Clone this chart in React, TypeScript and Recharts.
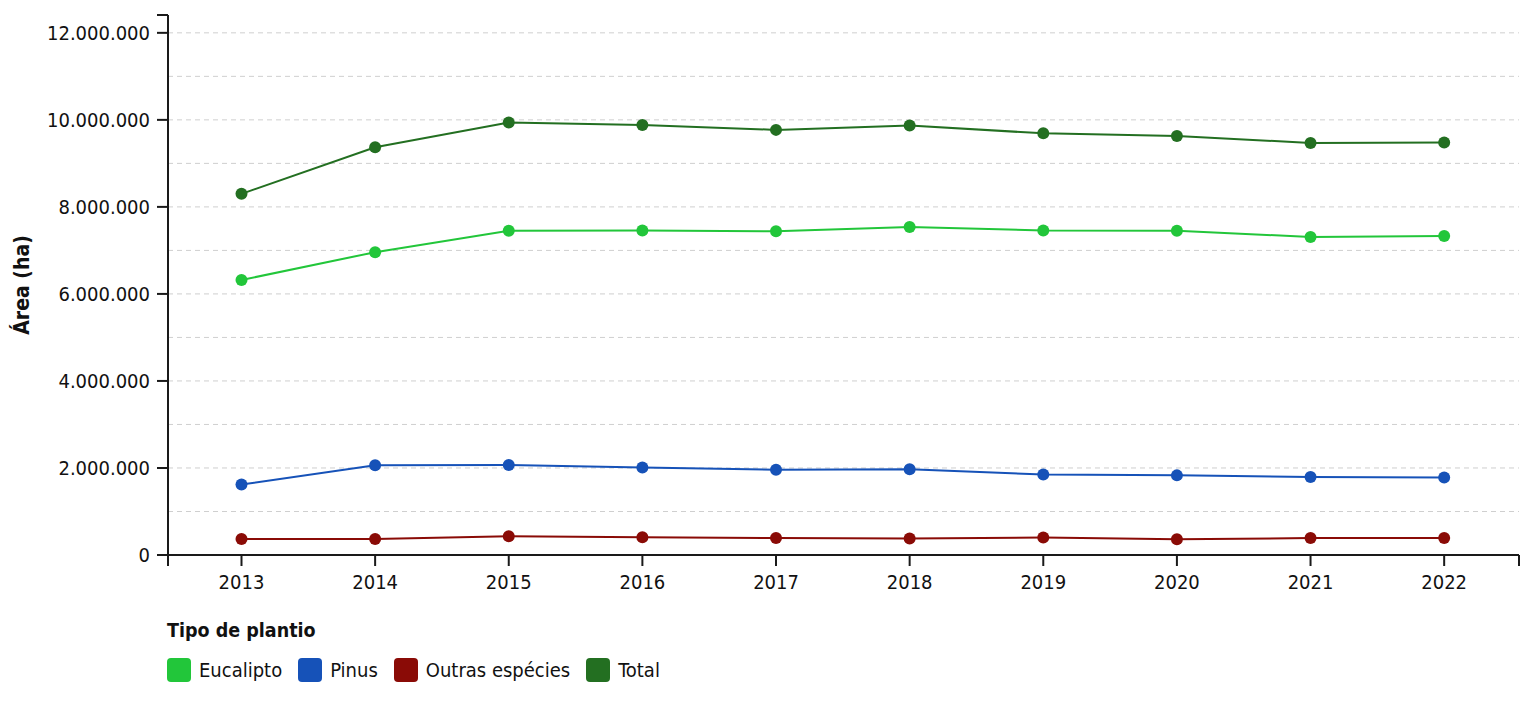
import { LineChart, Line, XAxis, YAxis, CartesianGrid } from 'recharts';

const years = [2013, 2014, 2015, 2016, 2017, 2018, 2019, 2020, 2021, 2022];

const eucalipto = [6320000, 6960000, 7450000, 7460000, 7440000, 7540000, 7460000, 7450000, 7310000, 7330000];
const pinus = [1620000, 2060000, 2070000, 2010000, 1960000, 1970000, 1850000, 1830000, 1790000, 1780000];
const outras = [370000, 370000, 430000, 410000, 390000, 380000, 400000, 360000, 390000, 390000];
const total = [8300000, 9370000, 9940000, 9880000, 9770000, 9870000, 9690000, 9630000, 9470000, 9480000];

const yTicks = [0, 2000000, 4000000, 6000000, 8000000, 10000000, 12000000];
const yGrid = [1000000, 2000000, 3000000, 4000000, 5000000, 6000000, 7000000, 8000000, 9000000, 10000000, 11000000, 12000000];
const yMax = 12410000;
const xMin = 2012.45;
const xMax = 2022.56;

const series = [
  { key: 'eucalipto', name: 'Eucalipto', color: '#22c63a' },
  { key: 'pinus', name: 'Pinus', color: '#1652b8' },
  { key: 'outras', name: 'Outras espécies', color: '#8a0b06' },
  { key: 'total', name: 'Total', color: '#236f21' },
];

const data = years.map((year, i) => ({
  year,
  eucalipto: eucalipto[i],
  pinus: pinus[i],
  outras: outras[i],
  total: total[i],
}));

const formatNumber = (v: number) => String(Math.round(v)).replace(/\B(?=(\d{3})+(?!\d))/g, '.');

const FONT = "'DejaVu Sans Condensed', 'Noto Sans', sans-serif";

export default function App() {
  return (
    <div
      style={{
        position: 'absolute',
        left: 0,
        top: 0,
        width: 1521,
        height: 714,
        background: '#fff',
        fontFamily: FONT,
      }}
    >
      <LineChart width={1521} height={714} data={data} margin={{ top: 15, right: 2, left: 0, bottom: 119 }}>
        <CartesianGrid
          vertical={false}
          horizontalValues={yGrid}
          stroke="#cfcfcf"
          strokeDasharray="5 4"
        />
        <XAxis
          dataKey="year"
          type="number"
          domain={[xMin, xMax]}
          ticks={[xMin, ...years, xMax]}
          tickFormatter={(v: number) => (Number.isInteger(v) ? String(v) : '')}
          height={40}
          tickSize={11}
          tickMargin={9}
          stroke="#1a1a1a"
          strokeWidth={2}
          tick={{ fill: '#111', fontSize: 20 }}
          interval={0}
        />
        <YAxis
          domain={[0, yMax]}
          ticks={[...yTicks, yMax]}
          tickFormatter={(v: number) => (v === yMax ? '' : formatNumber(v))}
          width={168}
          tickSize={11}
          tickMargin={7}
          stroke="#1a1a1a"
          strokeWidth={2}
          tick={{ fill: '#111', fontSize: 20 }}
          interval={0}
          label={{
            value: 'Área (ha)',
            angle: -90,
            position: 'insideLeft',
            offset: 22,
            style: { textAnchor: 'middle', fontWeight: 700, fontSize: 21, fill: '#111' },
          }}
        />
        {series.map((s) => (
          <Line
            key={s.key}
            dataKey={s.key}
            name={s.name}
            type="linear"
            stroke={s.color}
            strokeWidth={2}
            dot={{ r: 6, fill: s.color, stroke: 'none' }}
            activeDot={false}
            isAnimationActive={false}
          />
        ))}
      </LineChart>
      <div style={{ position: 'absolute', left: 167, top: 616, color: '#111' }}>
        <div style={{ fontWeight: 700, fontSize: 19.5, lineHeight: '30px' }}>Tipo de plantio</div>
        <div style={{ display: 'flex', alignItems: 'center', marginTop: 10, fontSize: 20, lineHeight: '28px' }}>
          {series.map((s) => (
            <div key={s.key} style={{ display: 'flex', alignItems: 'center', marginRight: 16 }}>
              <span
                style={{
                  display: 'inline-block',
                  width: 24,
                  height: 24,
                  borderRadius: 4,
                  background: s.color,
                  marginRight: 8,
                }}
              />
              <span>{s.name}</span>
            </div>
          ))}
        </div>
      </div>
    </div>
  );
}
